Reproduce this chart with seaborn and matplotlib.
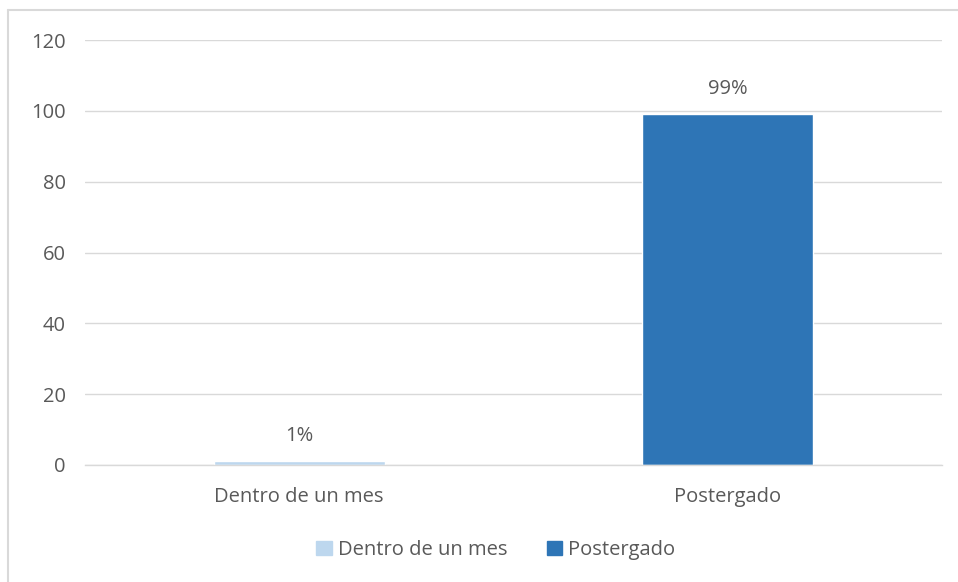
import matplotlib
matplotlib.use("Agg")
import matplotlib.pyplot as plt
import matplotlib.lines as mlines
import matplotlib.patches as mpatches
import seaborn as sns
import pandas as pd

categories = ["Dentro de un mes", "Postergado"]
values = [1, 99]
value_labels = ["1%", "99%"]
colors = ["#BDD7EE", "#2E75B6"]
y_ticks = [0, 20, 40, 60, 80, 100, 120]

sns.set_theme(style="white")
plt.rcParams["font.family"] = ["Open Sans", "DejaVu Sans"]
text_color = "#595959"
fs = 14.5

df = pd.DataFrame({"categoria": categories, "valor": values})

fig = plt.figure(figsize=(9.58, 5.82), dpi=100)
ax = fig.add_axes([85 / 958, 1 - 465 / 582, (942 - 85) / 958, (465 - 40) / 582])

sns.barplot(data=df, x="categoria", y="valor", hue="categoria",
            palette=colors, width=0.4, ax=ax, legend=False, saturation=1)

ax.set_ylim(0, 120)
ax.set_yticks(y_ticks)
ax.set_xlim(-0.5, 1.5)
ax.set_xlabel("")
ax.set_ylabel("")
ax.yaxis.grid(True, color="#D9D9D9", linewidth=1)
ax.set_axisbelow(True)
for side in ["top", "right", "left"]:
    ax.spines[side].set_visible(False)
ax.spines["bottom"].set_color("#D9D9D9")
ax.spines["bottom"].set_linewidth(1)
ax.tick_params(axis="y", length=0, pad=14, labelsize=fs, labelcolor=text_color)
ax.tick_params(axis="x", length=0, pad=16, labelsize=fs, labelcolor=text_color)

for i, (v, lab) in enumerate(zip(values, value_labels)):
    ax.annotate(lab, (i, v), xytext=(0, 11), textcoords="offset points",
                ha="center", va="bottom", fontsize=fs, color=text_color)

handles = [mpatches.Patch(color=c, label=n) for c, n in zip(colors, categories)]
fig.legend(handles=handles, loc="center", bbox_to_anchor=(496 / 958, 1 - 550 / 582),
           ncol=2, frameon=False, fontsize=fs, labelcolor=text_color,
           handlelength=0.75, handleheight=0.75, handletextpad=0.3, columnspacing=2.0)

# outer chart frame
fig.add_artist(mlines.Line2D([8 / 958, 1], [1 - 10 / 582, 1 - 10 / 582],
                             transform=fig.transFigure, color="#D9D9D9", lw=1.5))
fig.add_artist(mlines.Line2D([8 / 958, 8 / 958], [0, 1 - 10 / 582],
                             transform=fig.transFigure, color="#D9D9D9", lw=1.5))

fig.savefig("out.png", dpi=100)
